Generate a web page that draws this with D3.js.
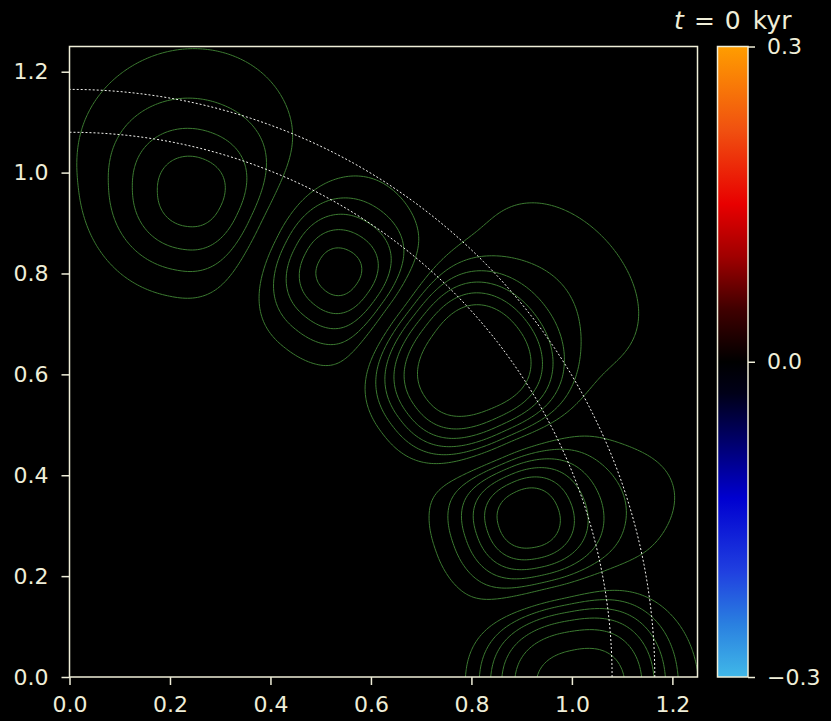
<!DOCTYPE html>
<html>
<head>
<meta charset="utf-8">
<script src="https://cdn.jsdelivr.net/npm/d3@7"></script>
<style>
  body { margin: 0; background: #000; }
  svg { display: block; }
</style>
</head>
<body>
<div id="chart"></div>
<script>
// vortex centres read off the frame, with rough strength / size
var vortexX = [0.250, 0.530, 0.785, 0.905, 1.005];
var vortexY = [0.945, 0.805, 0.608, 0.315, -0.015];
var vortexAmp = [0.43, -0.56, 0.66, -0.66, 0.62];
var vortexSizeR = [0.115, 0.10, 0.14, 0.095, 0.15];
var vortexSizeT = [0.13, 0.11, 0.15, 0.10, 0.15];
var vortexPower = [2, 2, 3.5, 2, 3.5];
var vortexHalo = [0.26, 0.18, 0.34, 0.3, 0.12];
var contourLevels = [-0.6, -0.5, -0.4, -0.3, -0.2, -0.1, 0.1, 0.2, 0.3, 0.4, 0.5, 0.6];
var arcRadii = [1.08, 1.165];
var xTicks = [0, 0.2, 0.4, 0.6, 0.8, 1.0, 1.2];
var yTicks = [0, 0.2, 0.4, 0.6, 0.8, 1.0, 1.2];
var cbTicks = [-0.3, 0, 0.3];
var cbStops = [-0.3, -0.25, -0.2, -0.13, -0.07, -0.03, 0, 0.05, 0.1, 0.15, 0.22, 0.3];
var cbColors = ["#40b8e8", "#2a80e0", "#2040e0", "#0000d0", "#000060", "#000018",
                "#000000", "#400000", "#a00000", "#e80000", "#f05010", "#ff9d00"];

var width = 831, height = 721;
var pLeft = 69.5, pRight = 697.5, pTop = 46.5, pBottom = 677;
var fg = "#efeed8";

var svg = d3.select("#chart").append("svg")
    .attr("width", width)
    .attr("height", height)
    .style("background", "#000");

var x = d3.scaleLinear().domain([0, 1.25]).range([pLeft, pRight]);
var y = d3.scaleLinear().domain([0, 1.25]).range([pBottom, pTop]);

var defs = svg.append("defs");
defs.append("clipPath").attr("id", "plot")
   .append("rect")
   .attr("x", pLeft).attr("y", pTop)
   .attr("width", pRight - pLeft).attr("height", pBottom - pTop);

// field on a grid
var step = 0.005, x0 = -0.05, y0 = -0.05;
var n = 281, m = 281;
var vr = vortexX.map(function(d, i) { return Math.hypot(d, vortexY[i]); });
var vt = vortexX.map(function(d, i) { return Math.atan2(vortexY[i], d); });

function field(px, py) {
    var r = Math.hypot(px, py), th = Math.atan2(py, px), s = 0;
    for (var k = 0; k < vortexX.length; k++) {
        var u = (r - vr[k]) / vortexSizeR[k];
        var v = vr[k] * (th - vt[k]) / vortexSizeT[k];
        var d = Math.pow(Math.pow(Math.abs(u), 2.25) + Math.pow(Math.abs(v), 2.25), 1 / 2.25);
        var core = Math.exp(-0.5 * Math.pow(d, vortexPower[k]));
        // weak tail reaching outwards
        var hu = (r - vr[k] - 0.2) / 0.15;
        var hv = v / 1.3;
        var halo = vortexHalo[k] * Math.exp(-0.5 * (hu * hu + hv * hv));
        s += vortexAmp[k] * (core + halo);
    }
    return s;
}

var values = new Array(n * m);
for (var j = 0; j < m; j++) {
    for (var i = 0; i < n; i++) {
        values[i + j * n] = field(x0 + i * step, y0 + j * step);
    }
}

var contours = d3.contours().size([n, m]).thresholds(contourLevels)(values);

var proj = d3.geoTransform({
    point: function(px, py) {
        this.stream.point(x(x0 + (px - 0.5) * step), y(y0 + (py - 0.5) * step));
    }
});

var g = svg.append("g").attr("clip-path", "url(#plot)");

g.selectAll("path.c")
 .data(contours)
 .enter()
 .append("path")
 .attr("class", "c")
 .attr("d", d3.geoPath(proj))
 .attr("fill", "none")
 .attr("stroke", "#3c7a31")
 .attr("stroke-width", 1);

// dashed arcs
g.selectAll("path.arc")
 .data(arcRadii)
 .enter()
 .append("path")
 .attr("class", "arc")
 .attr("d", function(rad) {
     var pts = d3.range(0, 91).map(function(a) {
         var t = a * Math.PI / 180;
         return [x(rad * Math.cos(t)), y(rad * Math.sin(t))];
     });
     return d3.line()(pts);
 })
 .attr("fill", "none")
 .attr("stroke", "#f4f4f0")
 .attr("stroke-width", 1)
 .attr("stroke-dasharray", "2,2");

// axes
var xAxis = svg.append("g")
   .attr("transform", "translate(0," + pBottom + ")")
   .call(d3.axisBottom(x).tickValues(xTicks).tickFormat(d3.format(".1f")).tickSize(8).tickPadding(11));
var yAxis = svg.append("g")
   .attr("transform", "translate(" + pLeft + ",0)")
   .call(d3.axisLeft(y).tickValues(yTicks).tickFormat(d3.format(".1f")).tickSize(8).tickPadding(13));

[xAxis, yAxis].forEach(function(a) {
    a.select(".domain").remove();
    a.selectAll("line").attr("stroke", fg).attr("stroke-width", 1.5);
    a.selectAll("text").attr("fill", fg)
     .style("font-family", "DejaVu Sans").style("font-size", "22px");
});

svg.append("rect")
   .attr("x", pLeft).attr("y", pTop)
   .attr("width", pRight - pLeft).attr("height", pBottom - pTop)
   .attr("fill", "none").attr("stroke", fg).attr("stroke-width", 1.5);

// colorbar
var cbLeft = 717.5, cbRight = 748;
var cb = d3.scaleLinear().domain([-0.3, 0.3]).range([pBottom, pTop]);
var grad = defs.append("linearGradient")
   .attr("id", "cmap")
   .attr("x1", 0).attr("y1", 1).attr("x2", 0).attr("y2", 0);
grad.selectAll("stop")
    .data(cbStops)
    .enter()
    .append("stop")
    .attr("offset", function(d) { return (d + 0.3) / 0.6; })
    .attr("stop-color", function(d, i) { return cbColors[i]; });

svg.append("rect")
   .attr("x", cbLeft).attr("y", pTop)
   .attr("width", cbRight - cbLeft).attr("height", pBottom - pTop)
   .attr("fill", "url(#cmap)")
   .attr("stroke", fg).attr("stroke-width", 1.5);

var cbAxis = svg.append("g")
   .attr("transform", "translate(" + cbRight + ",0)")
   .call(d3.axisRight(cb).tickValues(cbTicks).tickFormat(function(d) {
       return d < 0 ? "\u2212" + Math.abs(d).toFixed(1) : d.toFixed(1);
   }).tickSize(7).tickPadding(12));
cbAxis.select(".domain").remove();
cbAxis.selectAll("line").attr("stroke", fg).attr("stroke-width", 1.5);
cbAxis.selectAll("text").attr("fill", fg)
      .style("font-family", "DejaVu Sans").style("font-size", "22px");

// title, centred over the colorbar
var title = svg.append("text")
   .attr("x", (cbLeft + cbRight) / 2)
   .attr("y", 29)
   .attr("text-anchor", "middle")
   .attr("fill", fg)
   .style("font-family", "DejaVu Sans")
   .style("font-size", "25px");
title.append("tspan").style("font-style", "italic").text("t");
title.append("tspan").attr("dx", 10).text("=");
title.append("tspan").attr("dx", 10).text("0");
title.append("tspan").attr("dx", 12).text("kyr");
</script>
</body>
</html>
